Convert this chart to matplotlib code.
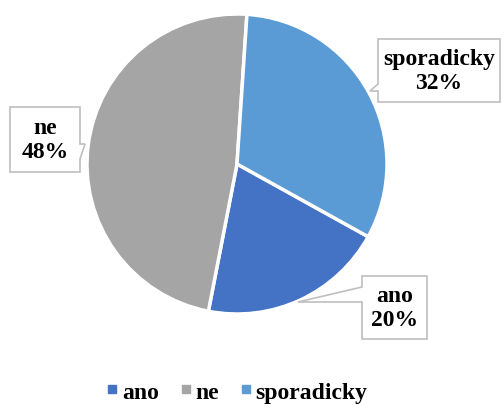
import matplotlib
matplotlib.use("Agg")
import matplotlib.pyplot as plt
from matplotlib.patches import Polygon
from matplotlib.lines import Line2D

# data
labels = ["ano", "ne", "sporadicky"]
shares = [20, 48, 32]
colors = ["#4472C4", "#A5A5A5", "#5B9BD5"]

W, H = 504, 406
plt.rcParams['font.family'] = ['Liberation Serif', 'DejaVu Serif']

fig = plt.figure(figsize=(W / 100, H / 100), dpi=100)
ax = fig.add_axes([0, 0, 1, 1])

# pie, centre and radius in pixel units
cx, cy, r = 237, 165, 150
ax.pie(shares, colors=colors, startangle=-29, counterclock=False,
       center=(cx, H - cy), radius=r,
       wedgeprops=dict(edgecolor="white", linewidth=2.5))
ax.set_xlim(0, W)
ax.set_ylim(0, H)
ax.set_aspect("equal")
ax.axis("off")

# callout boxes: (x0, y0, x1, y1), tail (attach1, tip, attach2), all in pixels from top-left
callouts = {
    "ne": ((10, 108, 80, 173), [(80, 145), (85, 145), (80, 160)]),
    "sporadicky": ((378, 40, 500, 103), [(378, 85), (370, 92), (378, 92)]),
    "ano": ((362, 277, 427, 340), [(362, 288), (298, 303), (362, 303)]),
}

def box_outline(box, tail):
    x0, y0, x1, y1 = box
    a, tip, b = tail
    if a[0] == x0:  # tail on left side
        pts = [(x0, y0), (x1, y0), (x1, y1), (x0, y1), b, tip, a]
    else:  # tail on right side
        pts = [(x0, y0), (x1, y0), a, tip, b, (x1, y1), (x0, y1)]
    return [(x, H - y) for x, y in pts]

for lab, val in zip(labels, shares):
    box, tail = callouts[lab]
    ax.add_patch(Polygon(box_outline(box, tail), closed=True, facecolor="white",
                         edgecolor="#BFBFBF", linewidth=1.2, zorder=3))
    x0, y0, x1, y1 = box
    ax.text((x0 + x1) / 2, H - (y0 + y1) / 2, f"{lab}\n{val}%", ha="center", va="center",
            fontsize=17, fontweight="bold", linespacing=1.15, zorder=4)

handles = [Line2D([], [], marker="s", linestyle="none", markersize=6,
                  markerfacecolor=c, markeredgecolor=c) for c in colors]
fig.legend(handles, labels, loc="center", bbox_to_anchor=(237 / W, 1 - 393 / H),
           ncol=3, frameon=False, prop=dict(size=17, weight="bold"),
           handlelength=0.5, handletextpad=0.15, columnspacing=0.9)

fig.savefig("out.png", dpi=100)
